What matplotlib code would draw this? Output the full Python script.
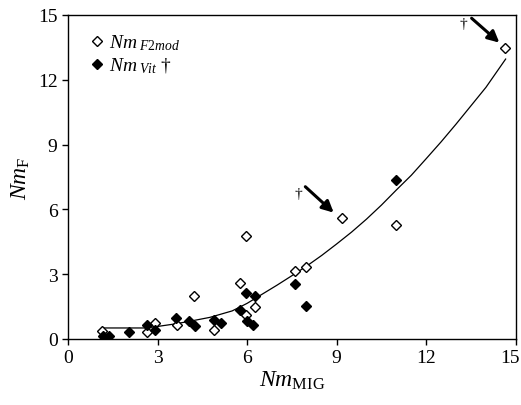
import matplotlib
matplotlib.use("Agg")
import matplotlib.pyplot as plt
from matplotlib.transforms import ScaledTranslation

plt.rcParams['font.family'] = ['Liberation Serif', 'DejaVu Serif']
plt.rcParams['mathtext.fontset'] = 'custom'
plt.rcParams['mathtext.rm'] = 'Liberation Serif'
plt.rcParams['mathtext.it'] = 'Liberation Serif:italic'

# Nm F2mod (open diamonds)
f2_x = [1.14, 2.64, 2.91, 3.65, 4.22, 4.89, 5.76, 5.96, 5.96, 6.26, 7.60, 7.97, 9.17, 11.0, 14.63]
f2_y = [0.37, 0.32, 0.74, 0.65, 1.99, 0.41, 2.59, 4.77, 1.11, 1.47, 3.15, 3.33, 5.60, 5.28, 13.47]

# Nm Vit (filled diamonds)
vit_x = [1.17, 1.37, 2.04, 2.64, 2.91, 3.62, 4.05, 4.25, 4.89, 5.12, 5.76, 5.96, 6.0, 6.2, 6.26, 7.60, 7.97, 11.0]
vit_y = [0.14, 0.14, 0.34, 0.65, 0.41, 0.97, 0.83, 0.62, 0.88, 0.72, 1.34, 2.13, 0.83, 0.66, 1.99, 2.55, 1.53, 7.36]

# fitted curve
fit_x = [1.14, 2.6, 3.0, 3.5, 4.0, 4.75, 5.5, 6.0, 6.5, 7.0, 7.5, 8.0, 8.5, 9.0, 9.5,
         10.0, 10.5, 11.0, 11.5, 12.0, 12.5, 13.0, 13.5, 14.0, 14.66]
fit_y = [0.51, 0.51, 0.58, 0.68, 0.8, 1.0, 1.3, 1.65, 2.07, 2.49, 2.93, 3.38, 3.87, 4.4, 4.95,
         5.55, 6.2, 6.9, 7.58, 8.35, 9.13, 9.95, 10.8, 11.65, 12.96]

fig = plt.figure(figsize=(5.21, 4.06), dpi=100)
ax = fig.add_axes([0.1305, 0.1626, 0.8595, 0.798])

ax.plot(fit_x, fit_y, color='black', lw=0.9, zorder=2)
ax.plot(f2_x, f2_y, linestyle='none', marker='D', ms=4.7, mfc='white', mec='black',
        mew=1.0, zorder=3, label=r'$Nm_{\ F2mod}$')
ax.plot(vit_x, vit_y, linestyle='none', marker='D', ms=5.0, mfc='black', mec='black',
        mew=1.0, zorder=3, label=r'$Nm_{\ Vit}$ †')

# arrows with daggers
arrow_kw = dict(arrowstyle='-|>', color='black', lw=2.2, mutation_scale=17,
                shrinkA=0, shrinkB=0)
ax.annotate('', xy=(8.9, 5.85), xytext=(7.95, 7.05), arrowprops=arrow_kw)
ax.text(7.73, 6.75, '†', fontsize=11, ha='center', va='center')
ax.annotate('', xy=(14.45, 13.72), xytext=(13.52, 14.85), arrowprops=arrow_kw)
ax.text(13.26, 14.6, '†', fontsize=11, ha='center', va='center')

ax.set_xlim(0, 15)
ax.set_ylim(0, 15)
ax.set_xticks([0, 3, 6, 9, 12, 15])
ax.set_yticks([0, 3, 6, 9, 12, 15])
ax.tick_params(direction='out', length=4, width=1, labelsize=14)
for s in ax.spines.values():
    s.set_linewidth(1)

# keep the last x tick label inside the figure
last = ax.get_xticklabels()[-1]
last.set_transform(last.get_transform() + ScaledTranslation(-6 / 100, 0, fig.dpi_scale_trans))

ax.set_xlabel(r'$Nm_{\mathrm{MIG}}$', fontsize=17, labelpad=2)
ax.set_ylabel(r'$Nm_{\mathrm{F}}$', fontsize=17, labelpad=4)

ax.legend(loc='upper left', frameon=False, fontsize=14, handletextpad=0.0,
          handlelength=1.2, borderaxespad=0.5, labelspacing=0.2)

fig.savefig('out.png', dpi=100)
